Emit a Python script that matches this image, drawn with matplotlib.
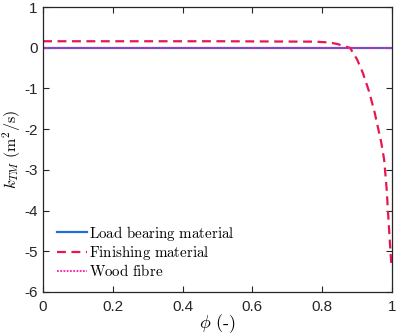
import matplotlib
matplotlib.use("Agg")
import matplotlib.pyplot as plt

plt.rcParams['mathtext.fontset'] = 'cm'
plt.rcParams['font.family'] = ['Liberation Sans', 'DejaVu Sans']

phi_flat = [0.0, 1.0]
k_load = [0.0, 0.0]
k_wood = [0.0, 0.0]

phi_fin = [0.0, 0.5, 0.78, 0.82, 0.845, 0.865, 0.88, 0.9, 0.917, 0.935, 0.951,
           0.96, 0.97, 0.978, 0.985, 0.991, 0.995, 0.998, 1.0]
k_fin = [0.16, 0.16, 0.15, 0.13, 0.09, 0.03, 0.0, -0.28, -0.62, -1.08, -1.6,
         -1.95, -2.34, -2.75, -3.45, -4.3, -4.85, -5.25, -5.42]

labels = [r'$\mathrm{Load\ bearing\ material}$',
          r'$\mathrm{Finishing\ material}$',
          r'$\mathrm{Wood\ fibre}$']

xticks = [0, 0.2, 0.4, 0.6, 0.8, 1]
yticks = [-6, -5, -4, -3, -2, -1, 0, 1]

fig = plt.figure(figsize=(3.99, 3.36), dpi=100)
ax = fig.add_axes([0.108, 0.131, 0.874, 0.848])

ax.plot(phi_flat, k_load, color='#1f6fd8', lw=1.6, label=labels[0])
ax.plot(phi_fin, k_fin, color='#e8174f', lw=1.6, ls=(0, (4, 2.5)), label=labels[1])
ax.plot(phi_flat, k_wood, color='#ff1aa8', lw=1.3, ls=(0, (1, 0.8)), label=labels[2])

ax.set_xlim(0, 1)
ax.set_ylim(-6, 1)
ax.set_xticks(xticks)
ax.set_xticklabels(['0', '0.2', '0.4', '0.6', '0.8', '1'])
ax.set_yticks(yticks)
ax.set_yticklabels([str(t) if t >= 0 else '-' + str(-t) for t in yticks])
ax.tick_params(axis='both', direction='in', top=True, right=True, labelsize=11, length=4,
               width=0.8, colors='#262626')
ax.tick_params(axis='x', pad=6)
ax.tick_params(axis='y', pad=4)
for s in ax.spines.values():
    s.set_color('#262626')
    s.set_linewidth(0.9)

ax.set_xlabel(r'$\phi\ \mathrm{(\text{-})}$', fontsize=13)
ax.set_ylabel(r'$k_{TM}\ \mathrm{(m^2/s)}$', fontsize=11.5)
ax.xaxis.set_label_coords(0.5, -0.072)
ax.yaxis.set_label_coords(-0.058, 0.5)

leg = ax.legend(loc='lower left', bbox_to_anchor=(0.022, 0.024), frameon=False,
                fontsize=10.8, handlelength=2.0, handletextpad=0.15, labelspacing=0.08,
                borderaxespad=0)

fig.savefig('out.png', dpi=100)
